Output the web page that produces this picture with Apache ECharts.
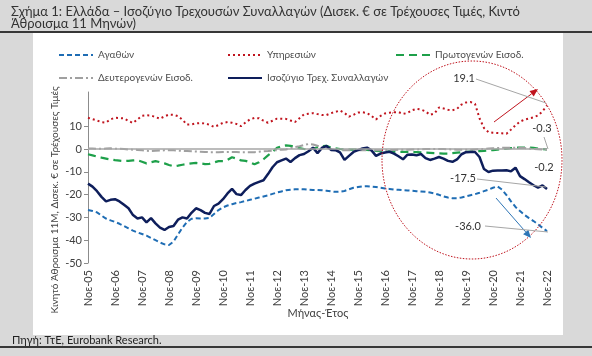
<!DOCTYPE html>
<html><head><meta charset="utf-8">
<script src="https://cdn.jsdelivr.net/npm/echarts@6/dist/echarts.min.js"></script>
<style>html,body{margin:0;padding:0;background:#d9d9d9}#c{width:592px;height:356px}</style>
</head><body><div id="c"></div>
<script>
// Bi-monthly observations from Nov-05 to Nov-22
const monthNames = ['Ιαν','Φεβ','Μαρ','Απρ','Μαϊ','Ιουν','Ιουλ','Αυγ','Σεπ','Οκτ','Νοε','Δεκ'];
const startYear = 2005, startMonth = 10, stepMonths = 2, nPoints = 103;
const categories = [];
for (let i = 0; i < nPoints; i++) {
  const t = startMonth + i * stepMonths;
  const y = startYear + Math.floor(t / 12);
  categories.push(monthNames[t % 12] + '-' + String(y).slice(2));
}
const seriesNames = ['Αγαθών','Υπηρεσιών','Πρωτογενών Εισοδ.','Δευτερογενών Εισοδ.','Ισοζύγιο Τρεχ. Συναλλαγών'];

const goods = [
 -26.8,-27.2,-27.8,-29.2,-30.5,-31.3,-32,-32.8,-33.8,-34.8,
 -35.8,-36.6,-37.3,-38,-39,-40,-41,-41.8,-42.1,-40.6,
 -37.5,-34.5,-32,-30.6,-30.4,-30.5,-30.5,-30.2,-28.5,-26.8,
 -25.6,-24.8,-24.2,-23.7,-23.3,-22.8,-22.3,-21.8,-21.3,-20.8,
 -20.3,-19.7,-19.1,-18.6,-18.1,-17.9,-17.7,-17.6,-17.7,-17.9,
 -18,-18,-18.1,-18.3,-18.6,-18.8,-18.7,-18.4,-17.7,-17,
 -16.7,-16.4,-16.3,-16.5,-16.7,-17,-17.3,-17.5,-17.8,-17.9,
 -18.1,-18.2,-18.3,-18.5,-18.6,-18.8,-19.1,-19.5,-20.1,-20.8,
 -21.3,-21.6,-21.6,-21.3,-20.8,-20.3,-19.8,-19.2,-18.5,-17.8,
 -17,-16.4,-17.8,-20.2,-23,-25.4,-27.2,-28.9,-30.3,-31.6,
 -33,-34.6,-36
];
const services = [
 13.7,13.1,12.5,11.8,11.6,13,13.7,13.6,13.4,12.3,
 11.4,13,14.6,14.8,14.7,14,13.3,14.3,15.1,15,
 14.4,12.8,10.7,10.8,11.2,11.4,11.2,10.6,9.7,10.5,
 11.5,11.8,11.5,11,10,11.6,13,13.6,13.5,12.4,
 11.5,12.4,13.3,13.3,13.2,12.5,11.8,13.5,15.2,15.5,
 15.7,15.3,14.9,14.9,15.7,16.3,16.9,15.8,14.2,15,
 16,16.1,15.8,14.5,13,14.5,15.6,15.9,16.1,16.2,
 15.4,15.8,17,17.6,17.3,16.5,15,15.6,18.2,17.8,
 17.2,17,17.6,19.5,20.4,20.6,19.8,13.5,9.2,7.4,
 7.1,7,6.9,6.7,8.5,10.4,12,12.9,13.4,13.9,
 14.7,16.5,19.1
];
const primaryIncome = [
 -2.3,-2.8,-3.3,-3.8,-4.2,-4.6,-4.9,-5.1,-5.3,-5.2,
 -5,-4.9,-5.6,-6.3,-5.8,-5.3,-5.8,-6.3,-7,-7.6,
 -7.3,-6.9,-6.6,-6.3,-6.1,-6.3,-6.6,-6.5,-5.9,-5.3,
 -5.3,-4.8,-3.6,-4.2,-5,-5.2,-5.8,-6.7,-5.8,-4.5,
 -2.8,-1.3,0.5,1.2,1.6,1.4,0.9,0.4,0,-0.3,
 0.1,0.8,1.2,1.4,0.6,0.3,0,-0.2,-0.3,-0.3,
 -0.3,-0.3,-0.4,-0.6,-0.8,-0.9,-1,-1.1,-1.2,-1.3,
 -1.3,-1.3,-1.3,-1.4,-1.5,-1.6,-1.7,-1.8,-1.9,-2,
 -2,-1.8,-1.6,-1.4,-1.2,-1.1,-1,-0.9,-0.8,-0.6,
 -0.5,-0.3,-0.1,0.2,0.4,0.6,0.6,0.6,0.6,0.5,
 0.2,0,-0.2
];
const secondaryIncome = [
 0.2,0.2,0.1,0.1,0.2,0.3,0.2,0.1,0,-0.2,
 -0.3,-0.4,-0.6,-0.8,-0.9,-0.8,-0.7,-0.6,-0.6,-0.6,
 -0.7,-0.8,-0.9,-1,-1.1,-1.2,-1.3,-1.4,-1.4,-1.4,
 -1.3,-1.3,-1.3,-1.3,-1.4,-1.4,-1.4,-1.4,-1.2,-1,
 -0.9,-0.7,-0.5,-0.3,-0.2,0.3,0.8,1.2,1.7,2.2,
 2,1.4,1,0.5,0,-0.4,-0.6,-0.6,-0.6,-0.6,
 -0.6,-0.5,-0.5,-0.5,-0.6,-0.6,-0.5,-0.4,-0.4,-0.3,
 -0.3,-0.3,-0.2,-0.2,-0.1,0,0,0,0,0,
 -0.1,-0.2,-0.3,-0.3,-0.3,-0.3,-0.2,-0.1,0,0.2,
 0.3,0.4,0.5,0.6,0.6,0.6,0.5,0.4,0.2,0,
 -0.1,-0.2,-0.3
];
const currentAccount = [
 -15.2,-16.5,-18.5,-21,-23,-22.3,-22,-23,-24.5,-26,
 -29,-30.5,-30,-32.2,-30.3,-32.6,-34.5,-35.5,-34.2,-33.8,
 -31,-30,-30.5,-28,-26,-26.8,-28,-28.5,-25,-24,
 -22,-19.5,-17.5,-19.8,-20.2,-18,-16.2,-15.2,-14.4,-13.7,
 -11,-8,-5.8,-5,-4.2,-5.7,-4,-2.7,-2.2,-1,
 0.6,-1.8,0.5,1.4,-0.4,-0.5,-1.5,-4.8,-3,-1.3,
 -0.5,0.2,0.6,-0.6,-3,-2,-1.5,-1.2,-2,-3.2,
 -4.5,-2.5,-2.4,-2.8,-2.2,-4,-4.8,-4.2,-3.5,-4.2,
 -5.2,-5.6,-4.6,-2.3,-1.4,-1.3,-1.3,-3.5,-8.8,-10.1,
 -9.5,-9.4,-9.4,-9.3,-9.8,-8.2,-11.9,-13.2,-14.6,-15.9,
 -16.9,-16,-17.5
];
const yTicks = [-50,-40,-30,-20,-10,0,10,20];
const endLabels = ['19.1','-0.3','-0.2','-17.5','-36.0'];

const FONT = 'Lato';
const chart = echarts.init(document.getElementById('c'), null, {renderer:'canvas'});

function arrow(x1,y1,x2,y2,color){
  const dx=x2-x1, dy=y2-y1, L=Math.hypot(dx,dy), ux=dx/L, uy=dy/L;
  const bx=x2-ux*8, by=y2-uy*8, px=-uy*3.5, py=ux*3.5;
  return [
    {type:'line', shape:{x1,y1,x2:bx,y2:by}, style:{stroke:color,lineWidth:1}, z:10},
    {type:'polygon', shape:{points:[[x2,y2],[bx+px,by+py],[bx-px,by-py]]}, style:{fill:color}, z:10}
  ];
}
function leader(x1,y1,x2,y2){
  return {type:'line', shape:{x1,y1,x2,y2}, style:{stroke:'#a6a6a6',lineWidth:1}, z:10};
}
function label(txt,x,y){
  return {type:'text', x, y, style:{text:txt, fill:'#333', font:'11px '+FONT, align:'center', verticalAlign:'middle'}, z:10};
}

const legendBase = {itemWidth:34, itemHeight:10, itemGap:4, itemStyle:{opacity:0},
  textStyle:{fontSize:10, color:'#4d4d4d', fontFamily:FONT}};
const legendPos = [[53,45],[222,45],[390,45],[53,68],[222,68]];

const graphics = [
  {type:'line', shape:{x1:0,y1:32,x2:592,y2:32}, style:{stroke:'#000',lineWidth:1.3}, z:-2},
  {type:'line', shape:{x1:0,y1:347,x2:592,y2:347}, style:{stroke:'#000',lineWidth:1.3}, z:-2},
  {type:'rect', shape:{x:33,y:33,width:530,height:302}, style:{fill:'#fff'}, z:-1},
  {type:'text', x:11, y:12, style:{text:'Σχήμα 1: Ελλάδα – Ισοζύγιο Τρεχουσών Συναλλαγών (Δισεκ. € σε Τρέχουσες Τιμές, Κιντό', fill:'#333', font:'13px '+FONT, verticalAlign:'middle'}},
  {type:'text', x:11, y:24, style:{text:'Άθροισμα 11 Μηνών)', fill:'#333', font:'13px '+FONT, verticalAlign:'middle'}},
  {type:'text', x:12, y:340, style:{text:'Πηγή: ΤτΕ, Eurobank Research.', fill:'#222', font:'11px '+FONT, verticalAlign:'middle'}},
  {type:'text', x:55, y:200, rotation:Math.PI/2, style:{text:'Κινητό Άθροισμα 11Μ, Δισεκ. € σε Τρέχουσες Τιμές', fill:'#404040', font:'10px '+FONT, align:'center', verticalAlign:'middle'}},
  {type:'text', x:318, y:313, style:{text:'Μήνας-Έτος', fill:'#404040', font:'11px '+FONT, align:'center', verticalAlign:'middle'}},
  {type:'ellipse', shape:{cx:472, cy:160, rx:90, ry:99}, style:{fill:null, stroke:'#c0141e', lineWidth:1, lineDash:[1.5,1.5]}, z:9},
  ...arrow(494,122,538,89,'#c0141e'),
  ...arrow(496,198,531,238,'#2e75b6'),
  label(endLabels[0],464,78), leader(476,79,546,103),
  label(endLabels[1],542,128), leader(544,137,548,149),
  label(endLabels[2],544,167),
  label(endLabels[3],463,178), leader(477,179,546,187),
  label(endLabels[4],468,226), leader(485,226,548,232)
];

const option = {
  backgroundColor:'#d9d9d9',
  animation:false,
  textStyle:{fontFamily:FONT},
  legend: seriesNames.map((n,i)=>Object.assign({}, legendBase, {data:[n], left:legendPos[i][0], top:legendPos[i][1]})),
  grid:{left:88, right:45, top:92, bottom:93, containLabel:false},
  xAxis:{type:'category', data:categories, boundaryGap:false,
    axisLine:{show:false, onZero:false}, axisTick:{show:false},
    axisLabel:{interval:5, rotate:90, fontSize:11, color:'#404040', margin:7, fontFamily:FONT},
    splitLine:{show:false}},
  yAxis:{type:'value', min:-50, max:25, interval:10,
    axisLine:{show:true, lineStyle:{color:'#8c8c8c'}},
    axisTick:{show:true, length:4, lineStyle:{color:'#8c8c8c'}, customValues:yTicks},
    axisLabel:{fontSize:11, color:'#404040', margin:6, fontFamily:FONT, customValues:yTicks, showMaxLabel:false},
    splitLine:{show:false}},
  series:[
    {name:seriesNames[0], type:'line', data:goods, symbol:'none', lineStyle:{color:'#1f6db4', width:2, type:[5,3]}, itemStyle:{color:'#1f6db4'},
     markLine:{silent:true, symbol:'none', label:{show:false}, lineStyle:{color:'#a6a6a6', width:1.5, type:'solid'}, data:[{yAxis:0}]}},
    {name:seriesNames[1], type:'line', data:services, symbol:'none', lineStyle:{color:'#c0141e', width:2, type:[2,3]}, itemStyle:{color:'#c0141e'}},
    {name:seriesNames[2], type:'line', data:primaryIncome, symbol:'none', lineStyle:{color:'#1ea04a', width:2.2, type:[8,5]}, itemStyle:{color:'#1ea04a'}},
    {name:seriesNames[3], type:'line', data:secondaryIncome, symbol:'none', lineStyle:{color:'#a0a0a0', width:2, type:[8,3,2,3]}, itemStyle:{color:'#a0a0a0'}},
    {name:seriesNames[4], type:'line', data:currentAccount, symbol:'none', lineStyle:{color:'#0e1e5b', width:2.5}, itemStyle:{color:'#0e1e5b'}}
  ],
  graphic: graphics
};
chart.setOption(option);
</script></body></html>
